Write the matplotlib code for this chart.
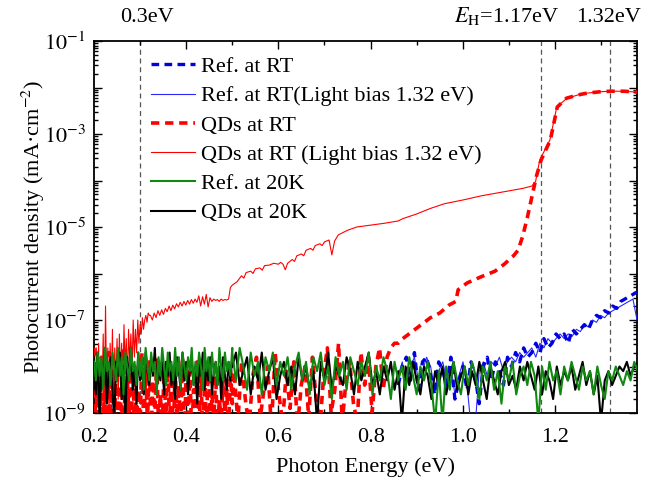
import numpy as np
import matplotlib
matplotlib.use("Agg")
import matplotlib.pyplot as plt
from matplotlib.ticker import FixedLocator, LogLocator, FuncFormatter, MultipleLocator
from matplotlib.lines import Line2D

plt.rcParams['font.family'] = 'serif'
plt.rcParams['font.serif'] = ['Liberation Serif', 'DejaVu Serif']
plt.rcParams['mathtext.fontset'] = 'stix'

# ---------------- data (log10 of photocurrent density) ----------------
# 20 K reference (green)
x_lo = np.linspace(0.2, 0.5, 76)
x_hi = np.linspace(0.5, 1.38, 111)
ref20_lo = [-7.9,-8.3,-7.7,-8.2,-7.8,-8.5,-7.6,-8.1,-7.9,-8.4,-7.7,-8.0,-8.3,-7.6,-8.2,-7.8,-8.6,-7.7,-8.0,-8.3,
            -7.6,-8.1,-7.9,-8.4,-7.7,-8.2,-7.8,-8.5,-7.6,-8.0,-8.3,-7.7,-8.1,-7.9,-8.6,-7.8,-8.2,-7.6,-8.0,-8.4,
            -7.7,-8.1,-7.9,-8.3,-7.6,-8.2,-7.8,-8.5,-7.7,-8.0,-8.3,-7.8,-8.1,-7.6,-8.4,-7.9,-8.2,-7.7,-8.0,-8.5,
            -7.6,-8.1,-7.8,-8.3,-7.7,-8.2,-7.9,-8.4,-7.6,-8.0,-8.3,-7.7,-8.1,-7.9,-8.2,-7.6]
ref20_hi = [-7.7,-8.3,-7.6,-8.0,-8.5,-7.7,-8.2,-7.9,-8.6,-7.8,
            -8.1,-7.7,-8.4,-7.9,-8.2,-7.8,-8.5,-8.0,-7.7,-8.3,
            -7.9,-8.6,-7.8,-8.1,-7.7,-8.4,-8.0,-8.7,-7.8,-8.2,
            -7.9,-8.5,-7.8,-8.1,-8.4,-7.9,-8.2,-7.7,-8.6,-8.0,
            -8.3,-7.8,-8.1,-8.7,-7.9,-8.3,-8.0,-8.5,-7.8,-8.2,
            -8.6,-8.0,-8.3,-7.9,-8.4,-9.2,-8.1,-9.2,-8.0,-8.5,
            -7.9,-8.3,-8.6,-8.0,-8.4,-7.9,-8.2,-8.7,-8.0,-8.3,
            -7.9,-8.5,-8.1,-8.8,-8.0,-8.3,-7.9,-8.6,-8.2,-8.0,
            -8.4,-7.9,-8.2,-9.2,-8.0,-8.5,-7.9,-8.3,-8.1,-8.6,
            -8.0,-8.3,-7.9,-8.2,-8.5,-8.0,-8.3,-8.1,-8.6,-8.0,
            -8.4,-8.7,-8.1,-8.3,-8.0,-8.2,-8.4,-8.1,-8.3,-7.9,-8.1]

# 20 K QDs (black)
qd20_lo = [-8.0,-8.6,-7.7,-9.2,-7.9,-8.4,-7.6,-8.8,-8.1,-7.8,-8.5,-9.2,-7.9,-8.2,-7.7,-8.7,-8.0,-9.2,-7.8,-8.3,
           -7.6,-8.5,-8.0,-8.8,-7.7,-8.3,-7.9,-8.6,-7.7,-8.1,-8.4,-7.8,-8.2,-7.6,-8.5,-8.0,-8.3,-7.8,-8.6,-7.9,
           -8.2,-7.7,-8.4,-8.0,-8.7,-7.8,-8.1,-8.5,-7.7,-8.3,-7.9,-8.6,-8.0,-7.8,-8.4,-8.1,-8.8,-7.9,-8.2,-7.7,
           -8.5,-8.0,-8.3,-7.8,-8.6,-8.1,-7.9,-8.4,-8.0,-8.7,-7.8,-8.2,-8.5,-7.9,-8.3,-7.8]
qd20_hi = [-8.0,-7.7,-8.4,-8.1,-7.8,-8.6,-8.0,-8.3,-7.7,-8.5,
           -8.1,-7.8,-8.7,-8.2,-7.9,-8.4,-8.0,-8.6,-7.8,-8.3,
           -8.0,-8.5,-8.1,-9.2,-7.9,-8.3,-7.7,-8.5,-8.0,-8.2,
           -8.4,-7.8,-8.1,-8.6,-7.9,-8.3,-8.0,-7.7,-8.4,-8.1,
           -8.6,-8.0,-8.3,-7.9,-8.5,-8.1,-9.2,-8.0,-8.4,-7.9,
           -8.3,-8.6,-8.0,-8.2,-8.7,-8.1,-8.4,-8.0,-8.6,-8.2,
           -7.9,-8.5,-8.2,-8.0,-8.6,-8.1,-8.4,-7.9,-8.3,-8.7,
           -8.0,-8.3,-8.6,-8.1,-7.9,-8.4,-8.2,-8.5,-8.0,-8.3,
           -7.9,-8.2,-8.5,-8.0,-8.6,-8.1,-8.3,-8.7,-8.0,-8.4,
           -8.1,-8.3,-8.0,-8.5,-8.2,-7.9,-8.4,-8.1,-8.6,-8.2,
           -9.2,-8.3,-8.1,-8.4,-8.2,-8.0,-8.1,-7.9,-8.2,-8.0,-7.9]

# QDs at RT (red dashed)
qdrt_x_mid = np.linspace(0.504, 0.86, 45)
qdrt_lo = [-7.6,-9.3,-8.0,-9.5,-7.8,-9.2,-8.3,-9.4,-7.7,-9.1,-8.1,-9.5,-7.9,-9.3,-8.4,-9.2,-7.6,-9.4,-8.2,-9.1,
           -7.8,-9.5,-8.0,-9.2,-8.5,-9.3,-7.7,-9.4,-8.1,-9.2,-7.9,-9.5,-8.3,-9.1,-7.8,-9.3,-8.6,-9.4,-8.0,-9.2,
           -7.9,-9.3,-8.2,-9.5,-8.0,-9.1,-8.4,-9.3,-7.8,-9.4,-8.3,-9.2,-8.1,-9.5,-8.5,-9.1,-7.9,-9.3,-8.2,-9.4,
           -8.4,-9.2,-8.0,-9.3,-8.6,-9.1,-8.2,-9.4,-8.7,-9.2,-8.3,-9.0,-8.5,-9.3,-8.1,-8.8]
qdrt_mid = [-8.1,-9.2,-7.9,-8.7,-9.3,-8.2,-7.8,-9.1,-8.5,-8.0,-9.3,-7.7,-8.6,-9.2,-8.1,-8.9,-7.9,-9.3,-8.4,-8.0,
            -9.1,-7.8,-8.7,-9.3,-8.2,-7.6,-9.0,-8.5,-7.5,-9.2,-8.3,-7.9,-8.8,-9.2,-7.7,-8.4,-7.8,-9.0,-8.0,-7.6,
            -8.5,-7.8,-7.6,-7.5,-7.5]
qdrt_x_hi = [0.87,0.89,0.91,0.93,0.95,0.97,0.985,0.99,1.01,1.04,1.07,1.09,1.11,1.12,1.13,1.14,1.15,1.16,1.17,
             1.19,1.205,1.225,1.25,1.27,1.30,1.32,1.35,1.378]
qdrt_hi = [-7.4,-7.25,-7.1,-6.95,-6.85,-6.68,-6.6,-6.35,-6.2,-6.07,-5.95,-5.8,-5.62,-5.5,-5.2,-4.8,-4.35,-3.9,-3.56,
           -3.13,-2.42,-2.23,-2.16,-2.12,-2.09,-2.08,-2.08,-2.1]

# QDs at RT with light bias (red solid)
qdlb_x_noise = np.linspace(0.2, 0.32, 49)
qdlb_noise = [-7.7,-9.3,-7.6,-8.8,-7.5,-9.2,-7.8,-8.5,-7.3,-9.1,-6.7,-8.6,-7.6,-9.0,-7.5,-8.4,-7.2,-8.9,-7.6,-8.3,
              -7.4,-8.7,-7.3,-8.2,-7.5,-8.6,-7.1,-8.0,-7.4,-8.3,-7.2,-7.9,-7.3,-8.1,-7.0,-7.8,-7.2,-7.7,-7.0,-7.5,
              -7.1,-7.3,-6.95,-7.2,-7.0,-6.9,-7.05,-6.85,-6.9]
qdlb_x_mid = np.linspace(0.3225, 0.5, 45)
qdlb_mid = [-6.9,-7.0,-6.85,-6.95,-6.8,-6.9,-6.78,-6.88,-6.75,-6.82,
            -6.7,-6.8,-6.68,-6.76,-6.65,-6.72,-6.62,-6.7,-6.6,-6.68,
            -6.58,-6.66,-6.56,-6.64,-6.55,-6.62,-6.48,-6.7,-6.5,-6.66,
            -6.45,-6.72,-6.52,-6.6,-6.55,-6.58,-6.56,-6.6,-6.55,-6.58,
            -6.56,-6.57,-6.55,-6.3,-6.25]
qdlb_x_hi = [0.51,0.52,0.525,0.53,0.54,0.545,0.55,0.56,0.565,0.57,0.58,0.59,0.60,0.605,0.61,0.615,0.62,0.63,
             0.635,0.64,0.65,0.655,0.66,0.67,0.675,0.68,0.69,0.695,0.70,0.705,0.71,0.716,0.722,0.73,0.75,0.77,
             0.80,0.83,0.86,0.87,0.90,0.93,0.96,1.00,1.04,1.09,1.13,1.15,1.158,1.167,1.189,1.204,1.226,1.25,1.27,
             1.30,1.32,1.35,1.378]
qdlb_hi = [-6.18,-6.05,-6.1,-5.98,-5.95,-6.0,-5.9,-5.88,-5.93,-5.83,-5.82,-5.78,-5.8,-5.76,-5.8,-5.92,-5.78,-5.7,
           -5.74,-5.62,-5.58,-5.62,-5.5,-5.46,-5.5,-5.4,-5.36,-5.4,-5.32,-5.3,-5.28,-5.6,-5.3,-5.17,-5.07,-5.0,
           -4.96,-4.92,-4.87,-4.82,-4.72,-4.6,-4.5,-4.42,-4.33,-4.24,-4.17,-4.12,-4.02,-3.56,-3.13,-2.42,-2.23,
           -2.16,-2.12,-2.09,-2.08,-2.08,-2.1]

# Ref at RT (blue dashed) and with light bias (blue solid)
ref_x = np.linspace(0.86, 1.378, 60)
refrt = [-8.4,-8.0,-7.8,-8.3,-7.7,-8.5,-7.9,-7.8,-8.2,-8.6,
         -7.9,-8.1,-8.4,-7.8,-8.7,-8.3,-8.0,-8.5,-7.9,-8.2,
         -8.8,-8.0,-7.8,-8.3,-7.9,-8.1,-8.4,-7.8,-8.0,-7.7,
         -7.9,-7.6,-7.8,-7.7,-7.5,-7.7,-7.4,-7.6,-7.5,-7.3,
         -7.4,-7.3,-7.5,-7.2,-7.3,-7.2,-7.1,-7.2,-7.0,-6.9,
         -6.95,-6.8,-6.85,-6.7,-6.75,-6.6,-6.55,-6.5,-6.45,-6.4]
reflb = [-8.2,-7.9,-8.4,-8.0,-7.8,-8.3,-8.1,-7.8,-8.0,-8.5,
         -8.1,-7.9,-8.3,-8.0,-8.6,-8.2,-7.9,-8.4,-9.3,-9.3,
         -8.1,-7.9,-8.2,-7.9,-8.0,-7.8,-8.1,-7.9,-7.8,-7.9,
         -7.7,-7.8,-7.7,-7.6,-7.8,-7.5,-7.6,-7.4,-7.5,-7.4,
         -7.3,-7.4,-7.3,-7.35,-7.2,-7.25,-7.1,-7.15,-7.0,-7.05,
         -6.9,-6.95,-6.85,-6.8,-6.75,-6.7,-6.65,-6.6,-6.55,-7.0]

vlines = [0.3, 1.17, 1.32]
labels = ["Ref. at RT", "Ref. at RT(Light bias 1.32 eV)", "QDs at RT",
          "QDs at RT (Light bias 1.32 eV)", "Ref. at 20K", "QDs at 20K"]

# ---------------- figure ----------------
fig = plt.figure(figsize=(6.54, 4.87), dpi=100)
ax = fig.add_axes([94/654, 74/487, 543/654, 372/487])

def p(v):
    return 10.0 ** np.asarray(v, dtype=float)

red = '#ff0000'
blue = '#0000e0'
green = '#118811'

# red solid (light bias)
ax.plot(np.concatenate([qdlb_x_noise, qdlb_x_mid, qdlb_x_hi]),
        p(qdlb_noise + qdlb_mid + qdlb_hi), color=red, lw=0.8, zorder=2)
# red dashed
ax.plot(np.concatenate([x_lo, qdrt_x_mid, qdrt_x_hi]),
        p(qdrt_lo + qdrt_mid + qdrt_hi), color=red, lw=2.6, dashes=(2.3, 1.6), zorder=3)
# blue
ax.plot(ref_x, p(reflb), color='#2a2aff', lw=0.8, zorder=4)
ax.plot(ref_x, p(refrt), color=blue, lw=2.4, dashes=(2.3, 1.6), zorder=4)
# black and green
ax.plot(np.concatenate([x_lo, x_hi]), p(qd20_lo + qd20_hi), color='black', lw=1.5, zorder=5)
ax.plot(np.concatenate([x_lo, x_hi]), p(ref20_lo + ref20_hi), color=green, lw=1.5, zorder=6)

for v in vlines:
    ax.axvline(v, color='#555555', lw=0.9, dashes=(4, 3), zorder=1)

ax.set_yscale('log')
ax.set_xlim(0.2, 1.378)
ax.set_ylim(1e-9, 1e-1)

ax.xaxis.set_major_locator(FixedLocator([0.2, 0.4, 0.6, 0.8, 1.0, 1.2]))
ax.xaxis.set_minor_locator(MultipleLocator(0.1))
ax.xaxis.set_major_formatter(FuncFormatter(lambda v, pos: f"{v:.1f}"))
ax.yaxis.set_major_locator(FixedLocator([10.0 ** k for k in range(-9, 0)]))
ax.yaxis.set_minor_locator(LogLocator(base=10, subs=np.arange(2, 10), numticks=20))

def yfmt(v, pos):
    k = int(round(np.log10(v)))
    return r'$10^{%d}$' % k if k % 2 != 0 else ''
ax.yaxis.set_major_formatter(FuncFormatter(yfmt))
ax.yaxis.set_minor_formatter(FuncFormatter(lambda v, pos: ''))

ax.tick_params(which='both', direction='in', top=True, right=True, labelsize=16, width=1.0)
ax.tick_params(which='major', length=6)
ax.tick_params(which='minor', length=3)
ax.tick_params(axis='x', pad=11)
ax.tick_params(axis='y', pad=6)
for s in ax.spines.values():
    s.set_linewidth(1.3)

ax.set_xlabel("Photon Energy (eV)", fontsize=16, labelpad=7)
ax.set_ylabel("Photocurrent density (mA·cm$^{-2}$)", fontsize=16, labelpad=-3)

tr = ax.get_xaxis_transform()
ax.text(0.315, 1.052, "0.3eV", transform=tr, ha='center', va='baseline', fontsize=16)
ax.text(1.096, 1.052, r"$E_{\mathrm{H}}$=1.17eV", transform=tr, ha='center', va='baseline', fontsize=16)
ax.text(1.316, 1.052, "1.32eV", transform=tr, ha='center', va='baseline', fontsize=16)

handles = [Line2D([], [], color=blue, lw=2.4, dashes=(2.3, 1.6)),
           Line2D([], [], color='#2a2aff', lw=0.8),
           Line2D([], [], color=red, lw=2.6, dashes=(2.3, 1.6)),
           Line2D([], [], color=red, lw=0.8),
           Line2D([], [], color=green, lw=1.5),
           Line2D([], [], color='black', lw=1.5)]
ax.legend(handles, labels, loc='upper left', bbox_to_anchor=(0.105, 0.958), frameon=False,
          fontsize=16, handlelength=2.0, handletextpad=0.25, labelspacing=0.39, borderpad=0,
          borderaxespad=0)

fig.savefig("out.png", dpi=100)
